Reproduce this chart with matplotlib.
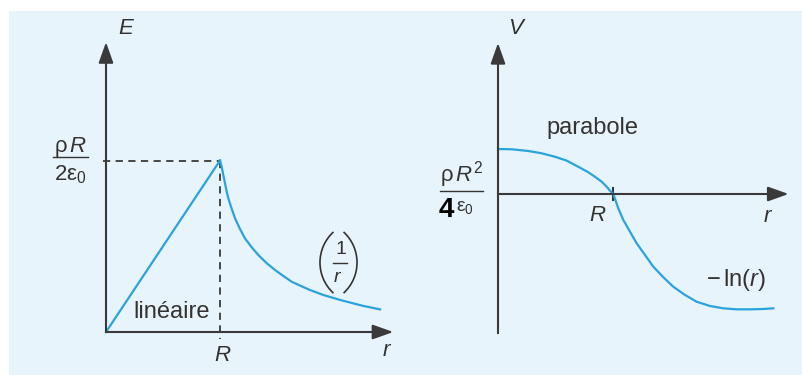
import matplotlib.pyplot as plt
from matplotlib.patches import Rectangle, Arc

plt.rcParams['font.family'] = ['Liberation Sans', 'DejaVu Sans']
plt.rcParams['mathtext.fontset'] = 'custom'
plt.rcParams['mathtext.rm'] = 'Liberation Sans'
plt.rcParams['mathtext.it'] = 'Liberation Sans:italic'

# E(r) : linear inside, decreasing outside (R = 1)
r_in = [0.0, 1.0]
E_in = [0.0, 1.0]
r_out = [1.0, 1.015, 1.029, 1.044, 1.059, 1.073, 1.096, 1.132, 1.175, 1.219, 1.278,
         1.336, 1.410, 1.482, 1.555, 1.629, 1.731, 1.789, 1.906, 2.053, 2.169, 2.257, 2.404]
E_out = [1.0, 0.964, 0.915, 0.867, 0.818, 0.780, 0.731, 0.663, 0.601, 0.546, 0.494,
         0.449, 0.401, 0.362, 0.327, 0.293, 0.262, 0.245, 0.216, 0.187, 0.167, 0.152, 0.132]

# V(r) : parabola inside, -ln(r) outside
r_V = [0.0, 0.119, 0.263, 0.379, 0.494, 0.596, 0.696, 0.783, 0.841, 0.899, 0.943, 0.971,
       1.0, 1.043, 1.087, 1.145, 1.203, 1.275, 1.347, 1.434, 1.520, 1.622, 1.723, 1.839,
       1.954, 2.070, 2.186, 2.301, 2.388]
V = [0.391, 0.389, 0.374, 0.354, 0.324, 0.290, 0.237, 0.189, 0.150, 0.107, 0.063, 0.029,
     0.0, -0.124, -0.226, -0.328, -0.429, -0.530, -0.632, -0.724, -0.806, -0.878, -0.937,
     -0.974, -0.994, -1.003, -1.003, -1.0, -0.994]

R = 1.0
blue = '#29a3dc'
axc = '#3a3a3a'
txt = '#333333'
bg = '#e8f4fb'

W, H = 803, 375
fig = plt.figure(figsize=(W / 100, H / 100), dpi=100)
fig.patches.append(Rectangle((9 / W, 0), 1, (H - 11) / H, transform=fig.transFigure,
                             facecolor=bg, edgecolor='none', zorder=-10))

def make_ax(px0, px1, ox, oy, sx, sy):
    # axes covering pixel columns px0..px1 and rows 15..375, origin at (ox, oy)
    ax = fig.add_axes([px0 / W, 0, (px1 - px0) / W, (H - 15) / H])
    ax.set_xlim((px0 - ox) / sx, (px1 - ox) / sx)
    ax.set_ylim(-(H - oy) / sy, (oy - 15) / sy)
    ax.axis('off')
    ax.patch.set_alpha(0)
    return ax

def arrow(ax, x0, y0, x1, y1):
    ax.annotate('', xy=(x1, y1), xytext=(x0, y0),
                arrowprops=dict(arrowstyle='-|>,head_length=0.9,head_width=0.32',
                                mutation_scale=14, color=axc, lw=1.5,
                                shrinkA=0, shrinkB=0))

# ---- left : E(r)
ax1 = make_ax(40, 400, 106, 332, 114, 171.5)
arrow(ax1, 0, 0, 0, 1.69)
arrow(ax1, 0, 0, 2.52, 0)
ax1.plot([-0.03, R], [1, 1], ls=(0, (4, 3)), color=axc, lw=1.3)
ax1.plot([R, R], [1, -0.04], ls=(0, (4, 3)), color=axc, lw=1.3)
ax1.plot(r_in, E_in, color=blue, lw=1.6)
ax1.plot(r_out, E_out, color=blue, lw=1.6, solid_joinstyle='round')

ax1.text(0.17, 1.77, 'E', style='italic', fontsize=16, color=txt, ha='center', va='center')
ax1.text(-0.31, 1.08, r'$\mathrm{\rho}\,R$', fontsize=16, color=txt, ha='center', va='center')
ax1.plot([-0.465, -0.155], [1.023, 1.023], color=txt, lw=1.0, clip_on=False)
ax1.text(-0.31, 0.92, r'$\mathrm{2\varepsilon}_0$', fontsize=16, color=txt, ha='center', va='center')
ax1.text(1.02, -0.135, 'R', style='italic', fontsize=16, color=txt, ha='center', va='center')
ax1.text(2.46, -0.105, 'r', style='italic', fontsize=16, color=txt, ha='center', va='center')
ax1.text(0.58, 0.117, 'linéaire', fontsize=17, color=txt, ha='center', va='center')

# (1/r) label: fraction between two tall thin parentheses
ax1.text(2.06, 0.48, '1', fontsize=14, color=txt, ha='center', va='center')
ax1.plot([1.995, 2.115], [0.402, 0.402], color=txt, lw=1.0)
ax1.text(2.03, 0.32, 'r', style='italic', fontsize=14, color=txt, ha='center', va='center')
ax1.add_patch(Arc((2.241, 0.405), 0.728, 0.484, theta1=144, theta2=216, color=txt, lw=1.2))
ax1.add_patch(Arc((1.838, 0.405), 0.728, 0.484, theta1=-36, theta2=36, color=txt, lw=1.2))

# ---- right : V(r)
ax2 = make_ax(405, 803, 498, 194, 115.3, 115)
ax2.plot([0, 0], [0, -1.21], color=axc, lw=1.5)
arrow(ax2, 0, 0, 0, 1.313)
arrow(ax2, 0, 0, 2.52, 0)
ax2.plot([R, R], [0.05, -0.05], color=axc, lw=1.5)
ax2.plot(r_V, V, color=blue, lw=1.6, solid_joinstyle='round')

ax2.text(0.15, 1.44, 'V', style='italic', fontsize=16, color=txt, ha='center', va='center')
ax2.text(0.82, 0.574, 'parabole', fontsize=17, color=txt, ha='center', va='center')
ax2.text(-0.32, 0.17, r'$\mathrm{\rho}\,R^2$', fontsize=16, color=txt, ha='center', va='center')
ax2.plot([-0.505, -0.13], [0.026, 0.026], color=txt, lw=1.0, clip_on=False)
ax2.text(-0.45, -0.14, '4', fontsize=20, fontweight='bold', color='black', ha='center', va='center')
ax2.text(-0.36, -0.12, r'$\mathrm{\varepsilon}_0$', fontsize=14, color=txt, ha='left', va='center')
ax2.text(0.86, -0.183, 'R', style='italic', fontsize=16, color=txt, ha='center', va='center')
ax2.text(2.34, -0.20, 'r', style='italic', fontsize=16, color=txt, ha='center', va='center')
ax2.text(2.06, -0.748, r'$-\,\mathrm{ln}(r)$', fontsize=17, color=txt, ha='center', va='center')

fig.savefig('out.png', dpi=100, facecolor='white')
